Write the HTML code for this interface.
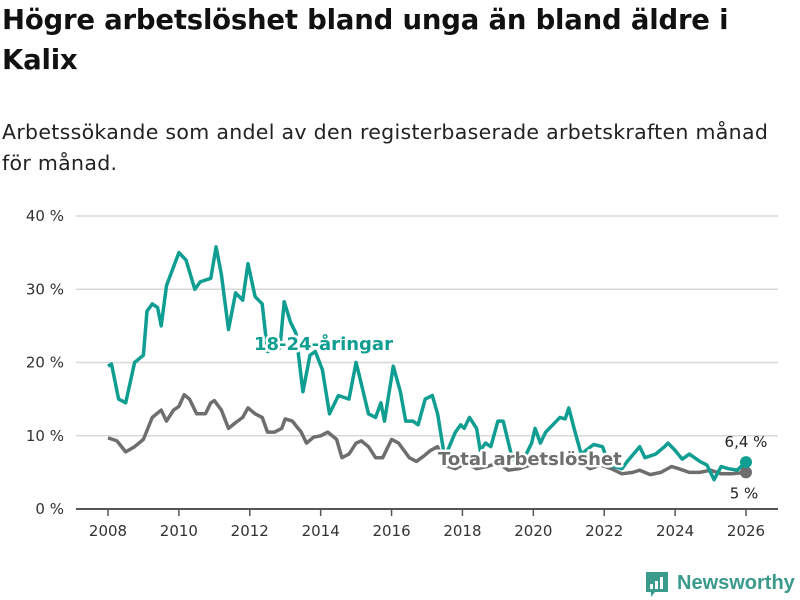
<!DOCTYPE html>
<html><head><meta charset="utf-8">
<style>
body{margin:0;width:800px;height:600px;background:#fff;font-family:"DejaVu Sans","Liberation Sans",sans-serif;overflow:hidden;position:relative}
h1{position:absolute;left:2px;top:0px;margin:0;font-size:27.5px;line-height:40px;font-weight:bold;color:#111;white-space:nowrap;letter-spacing:-0.2px}
.sub{position:absolute;left:2px;top:117px;font-size:20.5px;line-height:31px;color:#222;white-space:nowrap;letter-spacing:0.3px}
svg{position:absolute;left:0;top:0}
</style></head><body>
<h1>Högre arbetslöshet bland unga än bland äldre i<br>Kalix</h1>
<div class="sub">Arbetssökande som andel av den registerbaserade arbetskraften månad<br>för månad.</div>
<svg id="chart" width="800" height="600"></svg>
<script>
const yTicks=[0,10,20,30,40];
const xTicks=[2008,2010,2012,2014,2016,2018,2020,2022,2024,2026];
const youthYears=[2008.0,2008.1,2008.3,2008.5,2008.75,2009.0,2009.1,2009.25,2009.4,2009.5,2009.65,2010.0,2010.2,2010.45,2010.6,2010.9,2011.05,2011.2,2011.4,2011.6,2011.8,2011.95,2012.15,2012.35,2012.5,2012.85,2012.97,2013.15,2013.3,2013.5,2013.7,2013.85,2014.05,2014.25,2014.5,2014.8,2015.0,2015.1,2015.35,2015.55,2015.7,2015.8,2016.05,2016.25,2016.4,2016.6,2016.75,2016.95,2017.15,2017.3,2017.5,2017.8,2017.95,2018.05,2018.2,2018.4,2018.5,2018.65,2018.8,2019.0,2019.15,2019.3,2019.4,2019.6,2019.75,2019.95,2020.05,2020.2,2020.35,2020.55,2020.75,2020.9,2021.0,2021.15,2021.35,2021.7,2021.95,2022.15,2022.5,2022.65,2023.0,2023.15,2023.45,2023.7,2023.8,2024.0,2024.2,2024.4,2024.7,2024.9,2025.1,2025.3,2025.5,2025.75,2026.0];
const youthValues=[19.5,19.8,15,14.5,20,21,27,28,27.5,25,30.5,35,34,30,31,31.5,35.8,32,24.5,29.5,28.5,33.5,29,28,21.5,22,28.3,25.5,24,16,21,21.5,19,13,15.5,15,20,18,13,12.5,14.5,12,19.5,16,12,12,11.5,15,15.5,13,7,10.5,11.5,11,12.5,11,8,9,8.5,12,12,9,7,6,7,9,11,9,10.5,11.5,12.5,12.3,13.8,11,7.5,8.8,8.5,6,5.5,6.5,8.5,7,7.5,8.5,9,8,6.8,7.5,6.5,6,4,5.8,5.5,5.3,6.4];
const totalYears=[2008.0,2008.25,2008.5,2008.75,2009.0,2009.25,2009.5,2009.65,2009.85,2010.0,2010.15,2010.3,2010.5,2010.75,2010.9,2011.0,2011.2,2011.4,2011.6,2011.8,2011.95,2012.15,2012.35,2012.5,2012.7,2012.9,2013.0,2013.2,2013.45,2013.6,2013.8,2014.0,2014.2,2014.45,2014.6,2014.8,2015.0,2015.15,2015.35,2015.55,2015.75,2016.0,2016.2,2016.5,2016.7,2016.9,2017.1,2017.3,2017.5,2017.8,2018.1,2018.4,2018.7,2019.0,2019.3,2019.6,2019.9,2020.2,2020.5,2020.8,2021.0,2021.3,2021.6,2021.9,2022.2,2022.5,2022.8,2023.0,2023.3,2023.6,2023.9,2024.1,2024.4,2024.7,2025.0,2025.3,2025.6,2026.0];
const totalValues=[9.7,9.3,7.8,8.5,9.5,12.5,13.5,12,13.5,14,15.6,15,13,13,14.5,14.8,13.5,11,11.8,12.5,13.8,13,12.5,10.5,10.5,11,12.3,12,10.5,9,9.8,10,10.5,9.5,7,7.5,9,9.3,8.5,7,7,9.5,9,7,6.5,7.2,8,8.5,6,5.5,6.3,5.5,5.8,6.3,5.3,5.5,6.0,6.2,6.0,6.3,7,6.5,5.5,6,5.5,4.8,5,5.3,4.7,5,5.8,5.5,5,5,5.3,4.8,4.8,5.0];

const NS="http://www.w3.org/2000/svg";
const svg=document.getElementById('chart');
const x0=108,x1=746,y0=509,y40=216;
const xs=y=>x0+(y-2008)/(2026-2008)*(x1-x0);
const ys=v=>y0-v/40*(y0-y40);
function mk(t,a,p){const e=document.createElementNS(NS,t);for(const k in a)e.setAttribute(k,a[k]);(p||svg).appendChild(e);return e;}
yTicks.forEach(v=>{
  const l=mk('line',{x1:76,x2:778,y1:ys(v),y2:ys(v),stroke:v===0?'#555':'#d8d8d8','stroke-width':v===0?2:1.5});
  
  
  const t=mk('text',{x:64,y:ys(v)+5,'text-anchor':'end','font-size':15,fill:'#333'});t.textContent=v+' %';
  
  
});
xTicks.forEach(yr=>{
  const l=mk('line',{x1:xs(yr),x2:xs(yr),y1:y0,y2:y0+7,stroke:'#555','stroke-width':1.5});
  
  
  const t=mk('text',{x:xs(yr),y:y0+27,'text-anchor':'middle','font-size':15,fill:'#333'});t.textContent=yr;
  
  
});
function path(xsArr,vArr){return xsArr.map((y,i)=>(i?'L':'M')+xs(y).toFixed(1)+','+ys(vArr[i]).toFixed(1)).join('');}
const tl=mk('path',{d:path(totalYears,totalValues),fill:'none',stroke:'#6e6e6e','stroke-width':3.5,'stroke-linejoin':'round'});


const yl=mk('path',{d:path(youthYears,youthValues),fill:'none',stroke:'#109e92','stroke-width':3.5,'stroke-linejoin':'round'});


const tEnd=totalValues[totalValues.length-1],yEnd=youthValues[youthValues.length-1];
const d1=mk('circle',{cx:xs(2026),cy:ys(tEnd),r:6,fill:'#6e6e6e'});


const d2=mk('circle',{cx:xs(2026),cy:ys(yEnd),r:6,fill:'#109e92'});


const v1=mk('text',{x:xs(2026),y:ys(yEnd)-15,'text-anchor':'middle','font-size':15,fill:'#222'});v1.textContent=String(yEnd).replace('.',',')+' %';


const v2=mk('text',{x:xs(2026)-2,y:ys(tEnd)+26,'text-anchor':'middle','font-size':15,fill:'#222'});v2.textContent=String(tEnd).replace('.',',')+' %';


const s1=mk('text',{x:254,y:350,'font-size':18,'font-weight':'bold',fill:'#109e92',stroke:'#fff','stroke-width':5,'paint-order':'stroke','stroke-linejoin':'round'});s1.textContent='18-24-åringar';


const s2=mk('text',{x:438,y:465,'font-size':18,'font-weight':'bold',fill:'#6e6e6e',stroke:'#fff','stroke-width':5,'paint-order':'stroke','stroke-linejoin':'round'});s2.textContent='Total arbetslöshet';


// logo
const g=mk('g',{});


mk('path',{d:'M646,572 h22 v20 h-13 l-4,5 v-5 h-5 z',fill:'#3a9a8c'},g);
mk('rect',{x:650,y:584,width:3,height:5,fill:'#fff'},g);
mk('rect',{x:655,y:581,width:3,height:8,fill:'#fff'},g);
mk('rect',{x:660,y:577,width:3,height:12,fill:'#fff'},g);
const lt=mk('text',{x:677,y:589,'font-size':20,'font-weight':'bold',fill:'#3a9a8c','font-family':'Liberation Sans, sans-serif'},g);lt.textContent='Newsworthy';
</script>
</body></html>
